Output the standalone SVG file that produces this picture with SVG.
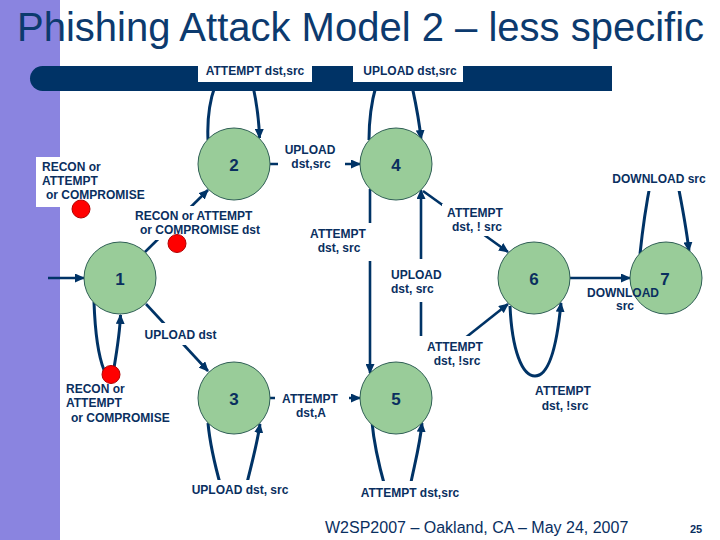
<svg xmlns="http://www.w3.org/2000/svg" width="720" height="540" viewBox="0 0 720 540">
<style>
.lbl{font-family:"Liberation Sans",Arial,sans-serif;font-size:12px;font-weight:bold;fill:#0A2F5F}
.mid{text-anchor:middle}
.num{font-family:"Liberation Sans",Arial,sans-serif;font-size:17px;font-weight:bold;fill:#0A2F5F;text-anchor:middle}
.node{fill:#99CC99;stroke:#2F5F55;stroke-width:1}
.dot{fill:#FF0000;stroke:#B00000;stroke-width:1}
.ln{fill:none;stroke:#003366;stroke-width:2.6}
.lp{fill:none;stroke:#003366;stroke-width:3}
.bg{fill:#FFFFFF}
</style>
<defs>
<marker id="ah" markerUnits="userSpaceOnUse" markerWidth="10" markerHeight="9" refX="9" refY="4.5" orient="auto">
<path d="M0,0 L10,4.5 L0,9 Z" fill="#003366"/>
</marker>
</defs>
<rect x="0" y="0" width="720" height="540" fill="#FFFFFF"/>
<rect x="0" y="0" width="60" height="540" fill="#8A84E0"/>
<text x="17" y="41" font-family="'Liberation Sans',Arial,sans-serif" font-size="40" fill="#0C3A6E">Phishing Attack Model 2 – less specific</text>

<g id="connectors">
<path class="lp" d="M208,140 C207,118 210,100 215,86 L253,86 C256,100 259,118 259.5,138" marker-end="url(#ah)"/>
<path class="lp" d="M369,140 C369,118 372,100 376,86 L412,86 C415,100 419,118 421,139" marker-end="url(#ah)"/>
<path class="lp" d="M94,302 C95,330 98,355 104,370 L114,368 C117,350 120,330 120.5,315" marker-end="url(#ah)"/>
<path class="lp" d="M208,423 C210,445 214,462 221,487 L246,487 C252,462 257,445 260,424" marker-end="url(#ah)"/>
<path class="lp" d="M372,422 C374,445 378,462 385,487 L410,487 C415,462 420,445 422,423" marker-end="url(#ah)"/>
<path class="lp" d="M510,306 C512,350 522,376 535,376 C549,376 557,345 561,303" marker-end="url(#ah)"/>
<path class="lp" d="M640,254 C643,225 646,205 651,180 L677,180 C682,205 686,225 689,251" marker-end="url(#ah)"/>
<path class="ln" d="M48,278 L84,278" marker-end="url(#ah)"/>
<path class="ln" d="M270,164 L360,164" marker-end="url(#ah)"/>
<path class="ln" d="M145,252 L208,190" marker-end="url(#ah)"/>
<path class="ln" d="M146,304 L208,371" marker-end="url(#ah)"/>
<path class="ln" d="M270,398 L360,398" marker-end="url(#ah)"/>
<path class="ln" d="M370,189 L370,373" marker-end="url(#ah)"/>
<path class="ln" d="M421,373 L421,190" marker-end="url(#ah)"/>
<path class="ln" d="M423,191 L508,252" marker-end="url(#ah)"/>
<path class="ln" d="M421,373 L508,304" marker-end="url(#ah)"/>
<path class="ln" d="M570,278 L630,278" marker-end="url(#ah)"/>
</g>

<g id="bar">
<path d="M42.5,66 H612 V91 H42.5 A12.5,12.5 0 0 1 42.5,66 Z" fill="#003366"/>
<rect class="bg" x="198" y="58" width="114" height="24"/>
<text class="lbl mid" x="255" y="75">ATTEMPT dst,src</text>
<rect class="bg" x="353" y="58" width="110" height="24"/>
<text class="lbl mid" x="410" y="75">UPLOAD dst,src</text>
</g>

<g id="labels">
<rect class="bg" x="278" y="142" width="67" height="30"/>
<text class="lbl mid" x="310" y="154">UPLOAD</text>
<text class="lbl mid" x="311" y="168">dst,src</text>

<rect class="bg" x="36" y="157" width="110" height="50"/>
<text class="lbl" x="42" y="171">RECON or</text>
<text class="lbl" x="42" y="185">ATTEMPT</text>
<text class="lbl" x="46" y="199">or COMPROMISE</text>

<rect class="bg" x="133" y="206" width="129" height="34"/>
<text class="lbl" x="135" y="220">RECON or ATTEMPT</text>
<text class="lbl" x="140" y="234">or COMPROMISE dst</text>

<rect class="bg" x="306" y="223" width="67" height="38"/>
<text class="lbl mid" x="338" y="238">ATTEMPT</text>
<text class="lbl mid" x="339" y="252">dst, src</text>

<rect class="bg" x="442" y="204" width="64" height="32"/>
<text class="lbl mid" x="475" y="216.5">ATTEMPT</text>
<text class="lbl mid" x="477" y="230.5">dst, ! src</text>

<rect class="bg" x="388" y="259" width="55" height="43"/>
<text class="lbl" x="391" y="279">UPLOAD</text>
<text class="lbl" x="391" y="293">dst, src</text>

<rect class="bg" x="415" y="336" width="72" height="38"/>
<text class="lbl mid" x="455" y="351">ATTEMPT</text>
<text class="lbl mid" x="457" y="365">dst, !src</text>

<rect class="bg" x="143" y="323" width="76" height="22"/>
<text class="lbl mid" x="180.5" y="339">UPLOAD dst</text>

<rect class="bg" x="275" y="388" width="74" height="33"/>
<text class="lbl mid" x="310" y="403">ATTEMPT</text>
<text class="lbl mid" x="311" y="417">dst,A</text>

<rect class="bg" x="608" y="169" width="102" height="22"/>
<text class="lbl mid" x="659" y="182.5">DOWNLOAD src</text>

<text class="lbl mid" x="563" y="395">ATTEMPT</text>
<text class="lbl mid" x="565" y="409.5">dst, !src</text>

<rect class="bg" x="189" y="480" width="102" height="19"/>
<text class="lbl mid" x="240" y="494">UPLOAD dst, src</text>

<rect class="bg" x="357" y="481" width="106" height="20"/>
<text class="lbl mid" x="410" y="497">ATTEMPT dst,src</text>

<text class="lbl" x="66" y="392.5">RECON or</text>
<text class="lbl" x="66" y="407">ATTEMPT</text>
<text class="lbl" x="71" y="421.5">or COMPROMISE</text>
</g>

<g id="node1"><circle class="node" cx="120" cy="278" r="36"/><text class="num" x="120" y="284.5">1</text></g>
<g id="node2"><circle class="node" cx="234" cy="164" r="36"/><text class="num" x="234" y="170.5">2</text></g>
<g id="node3"><circle class="node" cx="234" cy="398" r="36"/><text class="num" x="234" y="404.5">3</text></g>
<g id="node4"><circle class="node" cx="396" cy="164" r="36"/><text class="num" x="396" y="170.5">4</text></g>
<g id="node5"><circle class="node" cx="396" cy="398" r="36"/><text class="num" x="396" y="404.5">5</text></g>
<g id="node6"><circle class="node" cx="534" cy="278" r="36"/><text class="num" x="534" y="284.5">6</text></g>
<g id="node7"><circle class="node" cx="666" cy="278" r="36"/><text class="num" x="665" y="284.5">7</text></g>

<g id="dots">
<circle class="dot" cx="81" cy="209" r="9"/>
<circle class="dot" cx="177" cy="243.5" r="9"/>
<circle class="dot" cx="111" cy="374.5" r="9"/>
</g>

<g id="overlay">
<text class="lbl mid" x="623" y="297">DOWNLOAD</text>
<text class="lbl mid" x="625" y="310">src</text>
</g>

<text x="325" y="533" font-family="'Liberation Sans',Arial,sans-serif" font-size="16" fill="#0A2F5F">W2SP2007 – Oakland, CA – May 24, 2007</text>
<text x="690" y="533" font-family="'Liberation Sans',Arial,sans-serif" font-size="11" font-weight="bold" fill="#0A2F5F">25</text>
</svg>
